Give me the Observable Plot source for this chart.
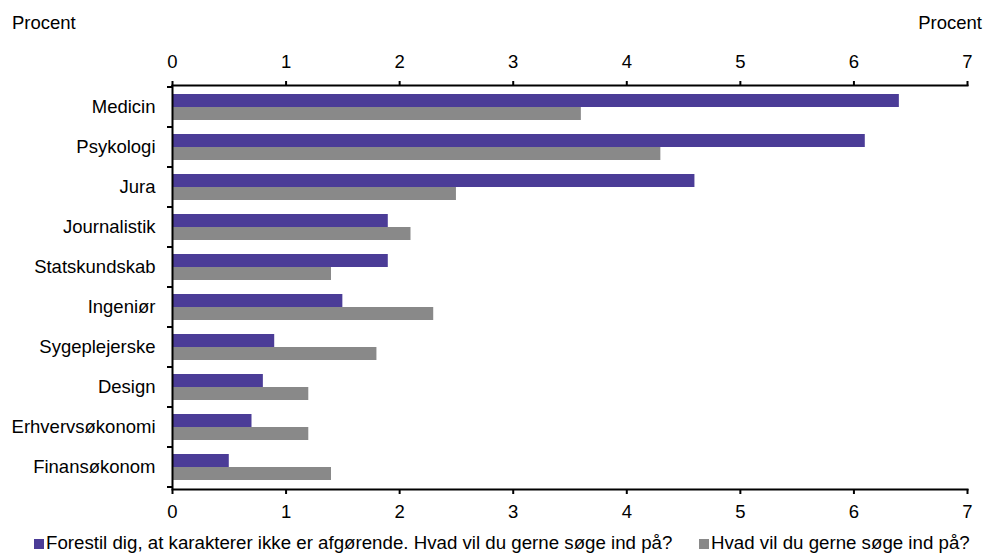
<!DOCTYPE html>
<html>
<head>
<meta charset="utf-8">
<script src="https://cdn.jsdelivr.net/npm/d3@7"></script>
<script src="https://cdn.jsdelivr.net/npm/@observablehq/plot@0.6"></script>
<style>
  html, body { margin: 0; padding: 0; background: #fff; }
  body { width: 985px; height: 554px; overflow: hidden; font-family: "Liberation Sans", Arial, sans-serif; color: #000; }
  .head { position: relative; height: 40px; font-size: 18.5px; }
  .head span { position: absolute; top: 13px; line-height: 20px; }
  .legend { position: relative; height: 24px; font-size: 18.7px; }
  .legend .item { position: absolute; top: 3px; line-height: 20px; white-space: nowrap; }
  .legend .sw { display: inline-block; width: 10px; height: 10px; margin-right: 2px; vertical-align: 0px; }
  svg { display: block; }
</style>
</head>
<body>
<div class="head"><span style="left:12px">Procent</span><span style="right:3px">Procent</span></div>
<div id="chart"></div>
<div class="legend" id="legend"></div>
<script>
const categories = ["Medicin","Psykologi","Jura","Journalistik","Statskundskab","Ingeniør","Sygeplejerske","Design","Erhvervsøkonomi","Finansøkonom"];
const seriesNames = ["Forestil dig, at karakterer ikke er afgørende. Hvad vil du gerne søge ind på?", "Hvad vil du gerne søge ind på?"];
const valuesA = [6.4, 6.1, 4.6, 1.9, 1.9, 1.5, 0.9, 0.8, 0.7, 0.5];
const valuesB = [3.6, 4.3, 2.5, 2.1, 1.4, 2.3, 1.8, 1.2, 1.2, 1.4];
const xTicks = [0, 1, 2, 3, 4, 5, 6, 7];
const colors = ["#4b3c97", "#898989"];

const dataA = categories.map((c, i) => ({category: c, value: valuesA[i]}));
const dataB = categories.map((c, i) => ({category: c, value: valuesB[i]}));

const plot = Plot.plot({
  width: 985,
  height: 490,
  marginTop: 45,
  marginBottom: 41,
  marginLeft: 172,
  marginRight: 18,
  style: {fontFamily: "'Liberation Sans', Arial, sans-serif", fontSize: "18.5px", color: "#000", background: "#fff", overflow: "visible"},
  x: {domain: [0, 7]},
  y: {domain: categories, padding: 0},
  marks: [
    Plot.barX(dataA, {x: "value", y: "category", fill: colors[0], insetTop: 7, insetBottom: 20}),
    Plot.barX(dataB, {x: "value", y: "category", fill: colors[1], insetTop: 20, insetBottom: 7}),
    Plot.axisX({anchor: "top", ticks: xTicks, tickFormat: d3.format("d"), tickSize: 5, tickPadding: 13, strokeWidth: 2, label: null, fontSize: 18.5}),
    Plot.axisX({anchor: "bottom", ticks: xTicks, tickFormat: d3.format("d"), tickSize: 5, tickPadding: 10, strokeWidth: 2, label: null, fontSize: 18.5}),
    Plot.axisY({tickSize: 0, tickPadding: 17, label: null, fontSize: 18.5}),
    Plot.frame({anchor: "top", strokeWidth: 2}),
    Plot.frame({anchor: "bottom", strokeWidth: 2}),
    Plot.ruleX([0], {strokeWidth: 2})
  ]
});
document.getElementById("chart").appendChild(plot);

// boundary ticks on the category axis, placed with the plot's own y scale
const ys = plot.scale("y");
const xs = plot.scale("x");
const x0 = xs.apply(0);
const starts = categories.map(c => ys.apply(c));
const bounds = starts.concat([starts[starts.length - 1] + ys.bandwidth]);
d3.select(plot).append("g")
  .attr("stroke", "#000").attr("stroke-width", 2)
  .selectAll("line").data(bounds).join("line")
  .attr("x1", x0 - 5).attr("x2", x0)
  .attr("y1", d => d).attr("y2", d => d);

// legend
const legend = d3.select("#legend");
const lefts = [34, 699];
seriesNames.forEach((name, i) => {
  const item = legend.append("div").attr("class", "item").style("left", lefts[i] + "px");
  item.append("span").attr("class", "sw").style("background", colors[i]);
  item.append("span").text(name);
});
</script>
</body>
</html>
